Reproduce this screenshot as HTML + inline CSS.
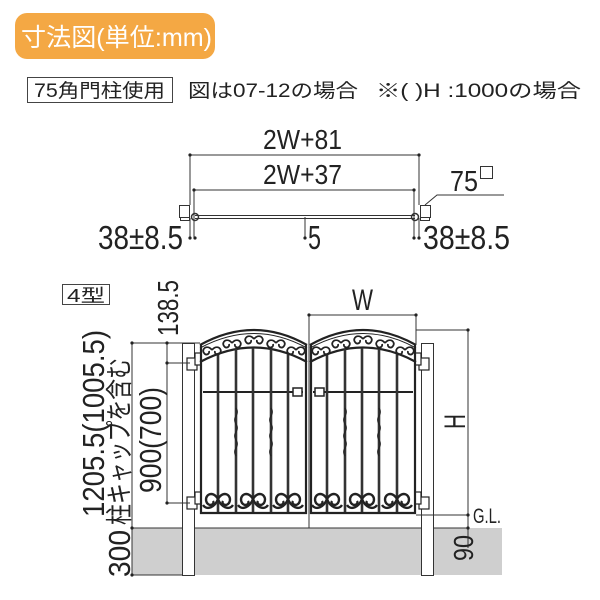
<!DOCTYPE html>
<html><head><meta charset="utf-8"><style>
html,body{margin:0;padding:0;background:#fff;}
svg{display:block;}
text{font-family:"Liberation Sans","Noto Sans CJK JP",sans-serif;fill:#222;}
</style></head><body>
<svg width="600" height="600" viewBox="0 0 600 600" xmlns="http://www.w3.org/2000/svg">
<defs>
<g id="scr" fill="none" stroke="#222" stroke-width="2.4">
<path d="M0,2 c-6,-10 -15,-3 -11,4 c3,4 8,1 6,-2"/>
<path d="M0,2 c6,-10 15,-3 11,4 c-3,4 -8,1 -6,-2"/>
<path d="M0,2 c-3,8 -11,12 -15,6"/>
<path d="M0,2 c3,8 11,12 15,6"/>
</g>
<g id="tscr" fill="none" stroke="#222" stroke-width="1.8">
<path d="M0,0 c-5,-6 -11,-1 -8,3 c2,3 6,1 5,-2"/>
<path d="M0,0 c5,-6 11,-1 8,3 c-2,3 -6,1 -5,-2"/>
</g>
<path id="tw" d="M0,0 q2.5,4 0,8 q-2.5,4 0,8 q2.5,4 0,8 q-2.5,4 0,8 q2.5,4 0,8 q-2.5,4 0,8" fill="none" stroke="#222" stroke-width="1.3"/>
</defs>
<!-- header -->
<rect x="15" y="13" width="200" height="46" rx="12" fill="#f4a844"/>
<text x="21" y="46" style="font-size:25px;fill:#fff" textLength="191" lengthAdjust="spacingAndGlyphs">寸法図(単位:mm)</text>
<rect x="27.5" y="77.5" width="145" height="25" fill="#fff" stroke="#444"/>
<text x="34" y="97" style="font-size:19px" textLength="131" lengthAdjust="spacingAndGlyphs">75角門柱使用</text>
<text x="188" y="97" style="font-size:19px" textLength="170" lengthAdjust="spacingAndGlyphs">図は07-12の場合</text>
<text x="376" y="97" style="font-size:19px" textLength="205" lengthAdjust="spacingAndGlyphs">※( )H :1000の場合</text>

<!-- top plan -->
<g stroke="#333" stroke-width="1" fill="none">
<line x1="190" y1="155" x2="419" y2="155"/>
<line x1="190" y1="155" x2="190" y2="205"/>
<line x1="419" y1="155" x2="419" y2="205"/>
<line x1="194" y1="190" x2="414" y2="190"/>
<line x1="194" y1="190" x2="194" y2="238"/>
<line x1="414" y1="190" x2="414" y2="238"/>
<rect x="179.5" y="205.5" width="10" height="12" fill="#fff"/>
<rect x="180.5" y="217.5" width="9" height="3" fill="#fff"/>
<rect x="420.5" y="205.5" width="10" height="12" fill="#fff"/>
<rect x="420.5" y="217.5" width="9" height="3" fill="#fff"/>
<line x1="195" y1="215.5" x2="415" y2="215.5"/>
<line x1="195" y1="218.5" x2="415" y2="218.5"/>
<circle cx="195" cy="217" r="3.5" stroke-width="1.5"/>
<circle cx="415" cy="217" r="3.5" stroke-width="1.5"/>
<line x1="305" y1="217" x2="305" y2="238"/>
<line x1="190" y1="218" x2="190" y2="238"/>
<line x1="419" y1="218" x2="419" y2="238"/>
<polyline points="425,205 437,195 504,195"/>
</g>
<g fill="#222"><circle cx="190" cy="155" r="1.6"/><circle cx="419" cy="155" r="1.6"/><circle cx="194" cy="190" r="1.6"/><circle cx="414" cy="190" r="1.6"/><circle cx="305" cy="238" r="1.6"/><circle cx="190" cy="238" r="1.6"/><circle cx="195" cy="238" r="1.6"/><circle cx="414" cy="238" r="1.6"/><circle cx="419" cy="238" r="1.6"/></g>
<text x="263" y="149" style="font-size:28px" textLength="79" lengthAdjust="spacingAndGlyphs">2W+81</text>
<text x="263" y="184" style="font-size:28px" textLength="79" lengthAdjust="spacingAndGlyphs">2W+37</text>
<text x="98" y="249" style="font-size:33px" textLength="85" lengthAdjust="spacingAndGlyphs">38±8.5</text>
<text x="308" y="249" style="font-size:33px" textLength="13" lengthAdjust="spacingAndGlyphs">5</text>
<text x="423" y="249" style="font-size:33px" textLength="87" lengthAdjust="spacingAndGlyphs">38±8.5</text>
<text x="450" y="191" style="font-size:29px" textLength="28" lengthAdjust="spacingAndGlyphs">75</text>
<rect x="480.5" y="166.5" width="12" height="12" fill="none" stroke="#333"/>

<!-- 4型 -->
<rect x="62.5" y="284.5" width="47" height="20" fill="#fff" stroke="#444"/>
<text x="67" y="302" style="font-size:18px" textLength="38" lengthAdjust="spacingAndGlyphs">4型</text>

<!-- ground -->
<rect x="132" y="528" width="370" height="47" fill="#cfcfcf"/>
<line x1="132" y1="528" x2="468" y2="528" stroke="#333" stroke-width="1"/>
<!-- posts -->
<rect x="182.5" y="343.5" width="12" height="232" fill="#fff" stroke="#333"/>
<rect x="421.5" y="343.5" width="12" height="232" fill="#fff" stroke="#333"/>
<!-- hinges -->
<g fill="#fff" stroke="#222" stroke-width="1.2">
<rect x="187" y="358" width="10" height="12"/><rect x="195" y="353" width="6" height="12"/>
<rect x="187" y="497" width="10" height="12"/><rect x="195" y="492" width="6" height="12"/>
<rect x="419" y="358" width="10" height="12"/><rect x="415" y="353" width="6" height="12"/>
<rect x="419" y="497" width="10" height="12"/><rect x="415" y="492" width="6" height="12"/>
</g>
<!-- gate -->
<g fill="none" stroke="#222">
<path d="M200,345 Q254,315 307,345" stroke-width="2.2"/>
<path d="M200,348 Q254,319 307,348" stroke-width="1"/>
<path d="M200,362 Q254,333 307,362" stroke-width="2.2"/>
<path d="M310,345 Q363,315 416,345" stroke-width="2.2"/>
<path d="M310,348 Q363,319 416,348" stroke-width="1"/>
<path d="M310,362 Q363,333 416,362" stroke-width="2.2"/>
<line x1="201" y1="345" x2="201" y2="514" stroke-width="2.2"/>
<line x1="306" y1="345" x2="306" y2="514" stroke-width="2.2"/>
<line x1="311" y1="345" x2="311" y2="514" stroke-width="2.2"/>
<line x1="415" y1="345" x2="415" y2="514" stroke-width="2.2"/>
<line x1="200" y1="513" x2="307" y2="513" stroke-width="2.2"/>
<line x1="310" y1="513" x2="416" y2="513" stroke-width="2.2"/>
<line x1="203" y1="392" x2="303" y2="392" stroke-width="2"/>
<line x1="313" y1="392" x2="413" y2="392" stroke-width="2"/>
<g stroke-width="2.6" stroke="#333">
<line x1="218" y1="354" x2="218" y2="512"/><line x1="236" y1="349" x2="236" y2="512"/><line x1="253" y1="348" x2="253" y2="512"/><line x1="271" y1="349" x2="271" y2="512"/><line x1="288" y1="354" x2="288" y2="512"/>
<line x1="327" y1="354" x2="327" y2="512"/><line x1="345" y1="349" x2="345" y2="512"/><line x1="362" y1="348" x2="362" y2="512"/><line x1="379" y1="349" x2="379" y2="512"/><line x1="397" y1="354" x2="397" y2="512"/>
</g>
<rect x="293" y="388" width="9" height="8" fill="#fff" stroke-width="1.5"/>
<rect x="315" y="388" width="9" height="8" fill="#fff" stroke-width="1.5"/>
</g>
<use href="#tw" x="236" y="408"/><use href="#tw" x="271" y="408"/><use href="#tw" x="345" y="408"/><use href="#tw" x="379" y="408"/>
<use href="#tscr" x="212" y="350"/><use href="#tscr" x="232" y="343"/><use href="#tscr" x="254" y="339"/><use href="#tscr" x="276" y="343"/><use href="#tscr" x="296" y="350"/>
<use href="#tscr" x="321" y="350"/><use href="#tscr" x="341" y="343"/><use href="#tscr" x="363" y="339"/><use href="#tscr" x="385" y="343"/><use href="#tscr" x="405" y="350"/>
<use href="#scr" x="218" y="497"/><use href="#scr" x="253" y="497"/><use href="#scr" x="288" y="497"/>
<use href="#scr" x="327" y="497"/><use href="#scr" x="362" y="497"/><use href="#scr" x="397" y="497"/>
<!-- center line -->
<line x1="309" y1="315" x2="309" y2="528" stroke="#333" stroke-width="1"/>
<!-- dims -->
<g stroke="#333" stroke-width="1">
<line x1="309" y1="315" x2="416" y2="315"/><line x1="416" y1="315" x2="416" y2="345"/>
<line x1="416" y1="330" x2="468" y2="330"/>
<line x1="468" y1="330" x2="468" y2="548"/>
<line x1="416" y1="515" x2="468" y2="515"/>
<line x1="132" y1="343" x2="200" y2="343"/>
<line x1="132" y1="343" x2="132" y2="575"/>
<line x1="132" y1="575" x2="182" y2="575"/>
<line x1="167" y1="343" x2="167" y2="503"/>
<line x1="167" y1="363" x2="190" y2="363"/>
<line x1="167" y1="503" x2="190" y2="503"/>
</g>
<g fill="#222"><circle cx="309" cy="315" r="1.6"/><circle cx="416" cy="315" r="1.6"/><circle cx="468" cy="330" r="1.6"/><circle cx="468" cy="515" r="1.6"/><circle cx="468" cy="528" r="1.6"/><circle cx="132" cy="343" r="1.6"/><circle cx="132" cy="528" r="1.6"/><circle cx="132" cy="575" r="1.6"/><circle cx="167" cy="343" r="1.6"/><circle cx="167" cy="363" r="1.6"/><circle cx="167" cy="503" r="1.6"/></g>
<text x="352" y="310" style="font-size:30px" textLength="21" lengthAdjust="spacingAndGlyphs">W</text>
<text x="473" y="523" style="font-size:21px" textLength="28" lengthAdjust="spacingAndGlyphs">G.L.</text>
<text transform="translate(465,429) rotate(-90)" style="font-size:30px" textLength="15" lengthAdjust="spacingAndGlyphs">H</text>
<text transform="translate(473,561) rotate(-90)" style="font-size:28px" textLength="26" lengthAdjust="spacingAndGlyphs">90</text>
<text transform="translate(178,336) rotate(-90)" style="font-size:29px" textLength="56" lengthAdjust="spacingAndGlyphs">138.5</text>
<text transform="translate(161,493) rotate(-90)" style="font-size:31px" textLength="106" lengthAdjust="spacingAndGlyphs">900(700)</text>
<text transform="translate(104,517) rotate(-90)" style="font-size:31px" textLength="187" lengthAdjust="spacingAndGlyphs">1205.5(1005.5)</text>
<text transform="translate(129,525) rotate(-90)" style="font-size:27px" textLength="167" lengthAdjust="spacingAndGlyphs">柱キャップを含む</text>
<text transform="translate(130,577) rotate(-90)" style="font-size:31px" textLength="47" lengthAdjust="spacingAndGlyphs">300</text>
</svg>
</body></html>
